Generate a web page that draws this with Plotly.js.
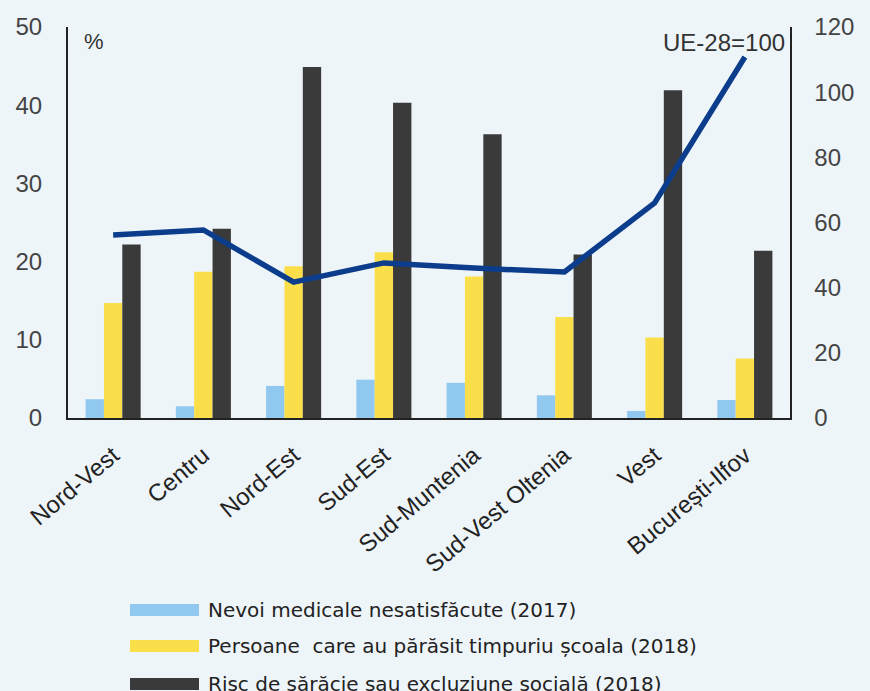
<!DOCTYPE html>
<html>
<head>
<meta charset="utf-8">
<script src="https://cdn.plot.ly/plotly-3.0.1.min.js"></script>
<style>
html,body{margin:0;padding:0;background:#eef5f9;}
#chart{width:870px;height:691px;}
</style>
</head>
<body>
<div id="chart"></div>
<script>
const regions = ["Nord-Vest","Centru","Nord-Est","Sud-Est","Sud-Muntenia","Sud-Vest Oltenia","Vest","București-Ilfov"];
const nevoiMedicale = [2.4, 1.5, 4.1, 4.9, 4.5, 2.9, 0.9, 2.3];
const parasitScoala = [14.7, 18.7, 19.4, 21.2, 18.1, 12.9, 10.3, 7.6];
const riscSaracie = [22.2, 24.2, 44.9, 40.3, 36.3, 20.9, 41.9, 21.4];
const pibUE = [56.2, 57.7, 41.7, 47.6, 46.0, 44.8, 66.0, 110.8];
const seriesNames = ["Nevoi medicale nesatisfăcute (2017)","Persoane  care au părăsit timpuriu școala (2018)","Risc de sărăcie sau excluziune socială (2018)"];
const leftTicks = [0,10,20,30,40,50];
const rightTicks = [0,20,40,60,80,100,120];

const colors = ["#90c8f0","#fbdf4a","#3a3a3a"];
const font = "Liberation Sans, Arial, sans-serif";
const wideFont = "DejaVu Sans, Liberation Sans, sans-serif";

const traces = [
  {type:"bar", x:regions, y:nevoiMedicale, name:seriesNames[0], marker:{color:colors[0]}, showlegend:false},
  {type:"bar", x:regions, y:parasitScoala, name:seriesNames[1], marker:{color:colors[1]}, showlegend:false},
  {type:"bar", x:regions, y:riscSaracie, name:seriesNames[2], marker:{color:colors[2]}, showlegend:false},
  {type:"scatter", mode:"lines", x:regions, y:pibUE, yaxis:"y2", line:{color:"#0b3d8c", width:5.5}, showlegend:false}
];

const shapes = [];
const annotations = [
  {text:"%", xref:"paper", yref:"paper", x:0.02, y:1.0, xanchor:"left", yanchor:"top", showarrow:false, font:{family:font, size:22, color:"#333"}},
  {text:"UE-28=100", xref:"paper", yref:"paper", x:0.996, y:1.0, xanchor:"right", yanchor:"top", showarrow:false, font:{family:font, size:24, color:"#333"}}
];
const legendRows = [610, 646, 684];
seriesNames.forEach((n,i)=>{
  const yc = legendRows[i];
  shapes.push({type:"rect", xref:"paper", yref:"paper", x0:(130-68)/722, x1:(199-68)/722, y0:(418-yc-6)/391, y1:(418-yc+6)/391, fillcolor:colors[i], line:{width:0}});
  annotations.push({text:n, xref:"paper", yref:"paper", x:(206-68)/722, y:(418-yc)/391, xanchor:"left", yanchor:"middle", showarrow:false, font:{family:wideFont, size:20, color:"#222"}});
});

const layout = {
  width:870, height:691,
  margin:{l:68, r:80, t:27, b:273},
  paper_bgcolor:"#eef5f9", plot_bgcolor:"#eef5f9",
  barmode:"group", bargap:0.39, bargroupgap:0,
  showlegend:false,
  font:{family:font, color:"#333"},
  xaxis:{type:"category", tickangle:-40, ticklabelstandoff:12, tickfont:{family:font, size:24, color:"#222"}, showline:true, linecolor:"#222", linewidth:2, ticks:"", showgrid:false, zeroline:false},
  yaxis:{range:[0,50], tickvals:leftTicks, showgrid:false, zeroline:false, showline:true, linecolor:"#222", linewidth:2, ticks:"", ticklabelstandoff:19, tickfont:{family:font, size:24, color:"#444"}},
  yaxis2:{range:[0,120], tickvals:rightTicks, overlaying:"y", side:"right", showgrid:false, zeroline:false, showline:true, linecolor:"#222", linewidth:1.5, ticks:"", ticklabelstandoff:18, tickfont:{family:font, size:24, color:"#444"}},
  shapes:shapes, annotations:annotations
};

Plotly.newPlot("chart", traces, layout, {displayModeBar:false, staticPlot:true});
</script>
</body>
</html>
